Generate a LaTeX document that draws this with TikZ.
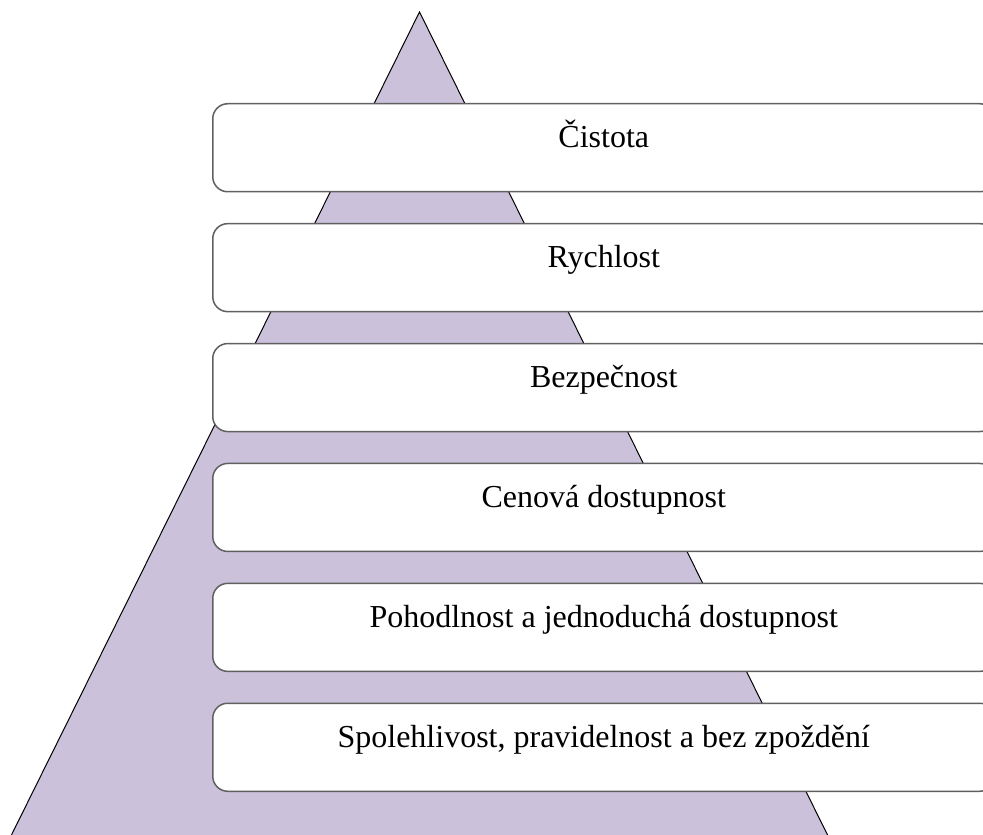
\documentclass[tikz,border=0pt]{standalone}
\usepackage{fontspec}
\setmainfont{Liberation Serif}
\usetikzlibrary{positioning}

\definecolor{lavender}{RGB}{204,193,218}
\definecolor{boxgray}{RGB}{96,96,96}

\begin{document}
\begin{tikzpicture}
    [
    x = 0.5pt, y = -0.5pt,
    node distance          = 15.2pt,
    every node/.style       = {font=\fontsize{16}{19}\selectfont},
    pyramid/.style          = {fill=lavender, draw=black, line width=0.5pt},
    layer/.style            = {rectangle, rounded corners=7.5pt, draw=boxgray,
                               line width=0.75pt, fill=white, inner sep=0pt,
                               minimum width=391pt, minimum height=44pt,
                               text height=0pt, text depth=0pt}
    ]
    \clip (0,0) rectangle (983,834);
    \useasboundingbox (0,0) rectangle (983,834);

    % background triangle
    \coordinate (apex) at (419.5,12);
    \coordinate (baseL) at (4,850);
    \coordinate (baseR) at (835,850);
    \draw [pyramid] (baseL) -- (apex) -- (baseR);

    % levels, top to bottom
    \node [layer, anchor=north west] (cistota) at (212,103) {Čistota};
    \node [layer, below=of cistota] (rychlost) {Rychlost};
    \node [layer, below=of rychlost] (bezpecnost) {Bezpečnost};
    \node [layer, below=of bezpecnost] (cena) {Cenová dostupnost};
    \node [layer, below=of cena] (pohodlnost) {Pohodlnost a jednoduchá dostupnost};
    \node [layer, below=of pohodlnost] (spolehlivost) {Spolehlivost, pravidelnost a bez zpoždění};
\end{tikzpicture}
\end{document}
